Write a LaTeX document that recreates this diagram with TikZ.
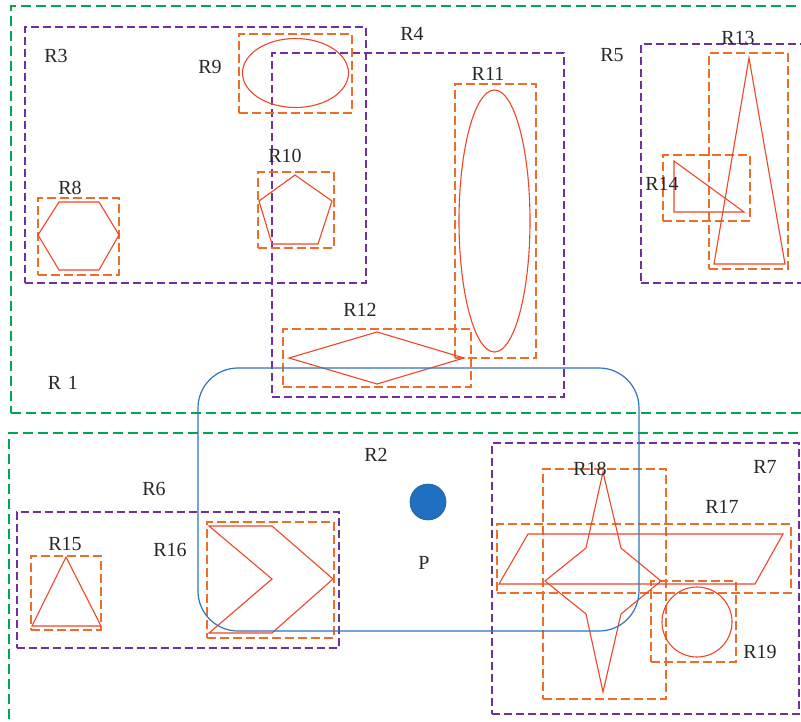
\documentclass[tikz,border=0pt]{standalone}
\usepackage{fontspec}
\setmainfont{Liberation Serif}
\begin{document}
\begin{tikzpicture}[x=1pt,y=-1pt,
  gbox/.style={draw=cgreen,line width=2.3pt,dash pattern=on 10pt off 5pt,rectangle,inner sep=0pt},
  pbox/.style={draw=cpurple,line width=2.3pt,dash pattern=on 8pt off 4pt,rectangle,inner sep=0pt},
  obox/.style={draw=corange,line width=2.3pt,dash pattern=on 9pt off 4pt,rectangle,inner sep=0pt},
  shp/.style={draw=cred,line width=1.1pt,line join=miter},
  lbl/.style={text=ctext,font=\fontsize{20}{23}\selectfont,inner sep=0pt},
]
\definecolor{cgreen}{RGB}{0,166,81}
\definecolor{cpurple}{RGB}{112,48,160}
\definecolor{corange}{RGB}{237,110,40}
\definecolor{cred}{RGB}{240,70,40}
\definecolor{cblue}{RGB}{46,117,190}
\definecolor{cdot}{RGB}{31,112,193}
\definecolor{ctext}{RGB}{40,40,40}
\clip (0,0) rectangle (801,722);
\fill[white] (0,0) rectangle (801,722);
% green regions
\node[gbox,minimum width=804pt,minimum height=407pt] (R1box) at (413,209.5) {};
\node[gbox,minimum width=806pt,minimum height=302pt] (R2box) at (412,584) {};
% purple regions
\node[pbox,minimum width=341pt,minimum height=256pt] (R3box) at (195.5,155) {};
\node[pbox,minimum width=292pt,minimum height=344pt] (R4box) at (418,225) {};
\node[pbox,minimum width=174pt,minimum height=239pt] (R5box) at (728,163.5) {};
\node[pbox,minimum width=322pt,minimum height=136pt] (R6box) at (178,580) {};
\node[pbox,minimum width=307pt,minimum height=271pt] (R7box) at (645.5,578.5) {};
% orange boxes
\node[obox,minimum width=81pt,minimum height=77pt] (R8box) at (78.5,236.5) {};
\node[obox,minimum width=113pt,minimum height=79pt] (R9box) at (295.5,73.5) {};
\node[obox,minimum width=76pt,minimum height=76pt] (R10box) at (296,210) {};
\node[obox,minimum width=81pt,minimum height=274pt] (R11box) at (495.5,221) {};
\node[obox,minimum width=188pt,minimum height=58pt] (R12box) at (377,358) {};
\node[obox,minimum width=79pt,minimum height=216pt] (R13box) at (748.5,161) {};
\node[obox,minimum width=87pt,minimum height=66pt] (R14box) at (706.5,188) {};
\node[obox,minimum width=70pt,minimum height=74pt] (R15box) at (66,593) {};
\node[obox,minimum width=127pt,minimum height=116pt] (R16box) at (270.5,580) {};
\node[obox,minimum width=294pt,minimum height=69pt] (R17box) at (644,558.5) {};
\node[obox,minimum width=123pt,minimum height=230pt] (R18box) at (604.5,584) {};
\node[obox,minimum width=85pt,minimum height=81pt] (R19box) at (693.5,621.5) {};
% red shapes
\draw[shp] (38,235) -- (59,202) -- (99,202) -- (119,235) -- (99,270) -- (59,270) -- cycle;
\draw[shp] (295.5,73) ellipse [x radius=53pt, y radius=34.5pt];
\draw[shp] (295,175) -- (332,201) -- (318,244) -- (272,244) -- (259,201) -- cycle;
\draw[shp] (494.5,221) ellipse [x radius=35.5pt, y radius=131pt];
\draw[shp] (289,358) -- (377,332) -- (464,358) -- (377,384) -- cycle;
\draw[shp] (749,58) -- (785,264) -- (714,264) -- cycle;
\draw[shp] (674,161) -- (744,212) -- (674,212) -- cycle;
\draw[shp] (66,557) -- (101,626) -- (32,626) -- cycle;
\draw[shp] (209,526) -- (272,526) -- (333,579) -- (272,633) -- (209,633) -- (272,579) -- cycle;
\draw[shp] (528,534) -- (783,534) -- (755,584) -- (499,584) -- cycle;
\draw[shp] (603,472) -- (621,548) -- (661,581) -- (621,614) -- (603,692) -- (586,614) -- (545,581) -- (586,548) -- cycle;
\draw[shp] (697,622) circle [radius=35pt];
% blue region and point
\node[draw=cblue,line width=1.2pt,rounded corners=40pt,rectangle,minimum width=441pt,minimum height=263pt,inner sep=0pt] (R2area) at (418.5,499.5) {};
\node[circle,fill=cdot,draw=cdot!80!black,line width=0.6pt,minimum size=36pt,inner sep=0pt] (Pdot) at (428,502) {};
% labels
\node[lbl] (lR1) at (63,383) {R\,\,1};
\node[lbl] (lR2) at (376,455) {R2};
\node[lbl] (lR3) at (56,56) {R3};
\node[lbl] (lR4) at (412,34) {R4};
\node[lbl] (lR5) at (612,55) {R5};
\node[lbl] (lR6) at (154,489) {R6};
\node[lbl] (lR7) at (765,467) {R7};
\node[lbl] (lR8) at (70,188) {R8};
\node[lbl] (lR9) at (210,67) {R9};
\node[lbl] (lR10) at (285,156) {R10};
\node[lbl] (lR11) at (488,74) {R11};
\node[lbl] (lR12) at (360,310) {R12};
\node[lbl] (lR13) at (738,38) {R13};
\node[lbl] (lR14) at (662,184) {R14};
\node[lbl] (lR15) at (65,544) {R15};
\node[lbl] (lR16) at (170,550) {R16};
\node[lbl] (lR17) at (722,507) {R17};
\node[lbl] (lR18) at (590,469) {R18};
\node[lbl] (lR19) at (760,652) {R19};
\node[lbl] (lP) at (424,563) {P};
\end{tikzpicture}
\end{document}
